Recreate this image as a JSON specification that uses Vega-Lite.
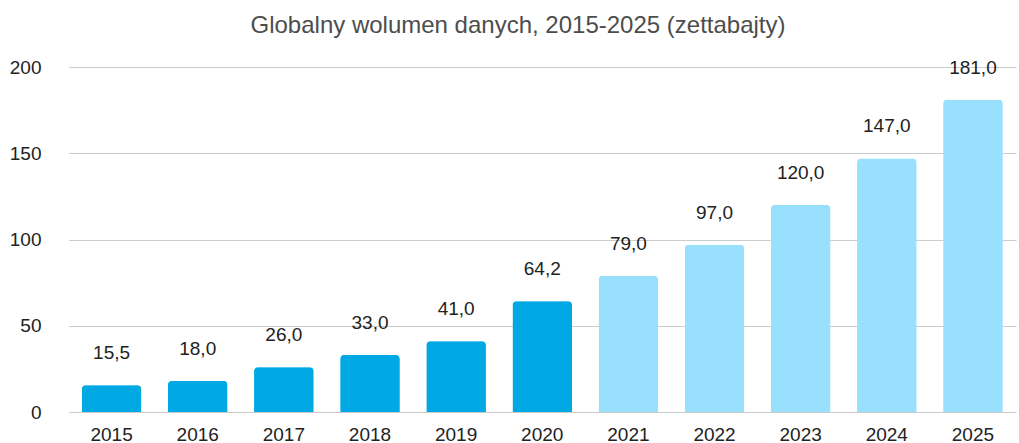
{
  "$schema": "https://vega.github.io/schema/vega-lite/v6.json",
  "width": 964,
  "height": 345,
  "autosize": {"type": "none"},
  "padding": {"left": 52, "top": 67, "right": 3, "bottom": 31},
  "title": {
    "text": "Globalny wolumen danych, 2015-2025 (zettabajty)",
    "font": "Liberation Sans",
    "fontSize": 24,
    "fontWeight": "normal",
    "color": "#4d4d4d",
    "offset": 20,
    "dx": -16
  },
  "config": {
    "view": {"stroke": null},
    "locale": {"number": {"decimal": ",", "thousands": " ", "grouping": [3], "currency": ["", " zł"]}},
    "font": "Liberation Sans"
  },
  "data": {
    "values": [
      {"rok": "2015", "wartosc": 15.5, "typ": "hist"},
      {"rok": "2016", "wartosc": 18.0, "typ": "hist"},
      {"rok": "2017", "wartosc": 26.0, "typ": "hist"},
      {"rok": "2018", "wartosc": 33.0, "typ": "hist"},
      {"rok": "2019", "wartosc": 41.0, "typ": "hist"},
      {"rok": "2020", "wartosc": 64.2, "typ": "hist"},
      {"rok": "2021", "wartosc": 79.0, "typ": "prog"},
      {"rok": "2022", "wartosc": 97.0, "typ": "prog"},
      {"rok": "2023", "wartosc": 120.0, "typ": "prog"},
      {"rok": "2024", "wartosc": 147.0, "typ": "prog"},
      {"rok": "2025", "wartosc": 181.0, "typ": "prog"}
    ]
  },
  "encoding": {
    "x": {
      "field": "rok",
      "type": "nominal",
      "scale": {"range": [16.5, 964], "paddingInner": 0.31, "paddingOuter": 0.155},
      "axis": {
        "title": null,
        "labelAngle": 0,
        "domain": false,
        "ticks": false,
        "labelFont": "Liberation Sans",
        "labelFontSize": 19,
        "labelColor": "#222222",
        "labelPadding": 13
      }
    }
  },
  "layer": [
    {
      "mark": {"type": "bar", "cornerRadiusTopLeft": 4, "cornerRadiusTopRight": 4},
      "encoding": {
        "y": {
          "field": "wartosc",
          "type": "quantitative",
          "scale": {"domain": [0, 200], "nice": false},
          "axis": {
            "title": null,
            "values": [0, 50, 100, 150, 200],
            "domain": false,
            "ticks": false,
            "gridColor": "#cccccc",
            "gridWidth": 1.2,
            "labelFont": "Liberation Sans",
            "labelFontSize": 19,
            "labelColor": "#222222",
            "labelPadding": 11
          }
        },
        "color": {
          "field": "typ",
          "type": "nominal",
          "scale": {"domain": ["hist", "prog"], "range": ["#00a8e4", "#99e0fe"]},
          "legend": null
        }
      }
    },
    {
      "mark": {"type": "rule", "color": "#333333", "strokeWidth": 1.2},
      "encoding": {"y": {"datum": 0, "type": "quantitative"}}
    },
    {
      "mark": {"type": "bar", "cornerRadiusTopLeft": 4, "cornerRadiusTopRight": 4},
      "encoding": {
        "y": {"field": "wartosc", "type": "quantitative"},
        "color": {"field": "typ", "type": "nominal", "legend": null}
      }
    },
    {
      "mark": {"type": "text", "baseline": "middle", "dy": -32, "fontSize": 19, "color": "#222222", "font": "Liberation Sans"},
      "encoding": {
        "y": {"field": "wartosc", "type": "quantitative"},
        "text": {"field": "wartosc", "type": "quantitative", "format": ".1f"}
      }
    }
  ]
}
